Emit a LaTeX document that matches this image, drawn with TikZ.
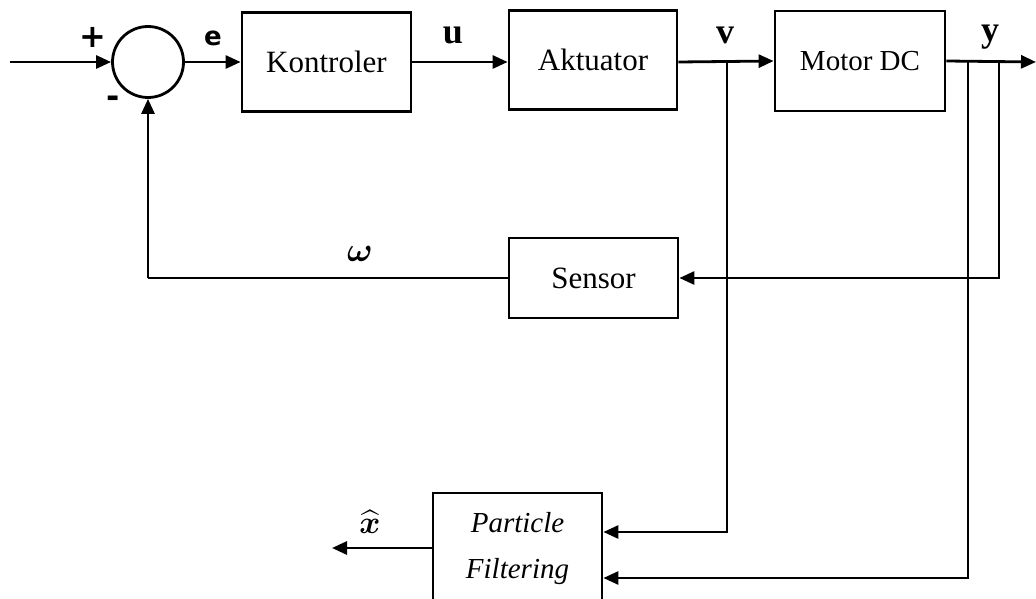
\RequirePackage{fix-cm}
\documentclass[tikz,border=0pt]{standalone}
\usepackage{amsmath,amssymb}
\usepackage{fontspec}
\setmainfont{Liberation Serif}
\newfontfamily\labelsans{DejaVu Sans}
\usepackage{tikz}
\usetikzlibrary{arrows.meta,positioning,calc}

\tikzset{
    blockbox/.style={draw, line width=2.8pt, rectangle, minimum width=169pt, minimum height=99pt, inner sep=0pt, font=\fontsize{31}{36}\selectfont},
    sumnode/.style={draw, line width=2.8pt, circle, minimum size=71pt, inner sep=0pt},
    sig/.style={line width=2.8pt, -{Triangle[length=15pt,width=13pt]}},
    wire/.style={line width=2.8pt},
    siglabel/.style={font=\fontsize{36}{40}\selectfont\bfseries}
}

\begin{document}
\begin{tikzpicture}[x=1pt, y=-1pt]
\useasboundingbox (0,0) rectangle (1036,599);

% forward path
\node[sumnode] (sum) at (148,62) {};
\node[blockbox] (kont) at (326.5,62) {Kontroler};
\node[blockbox, minimum width=168pt] (akt) at (593,60) {Aktuator};
\node[blockbox, minimum width=170pt, minimum height=100pt, font=\fontsize{29}{34}\selectfont] (motor) at (860,61) {Motor DC};

% feedback and estimator
\node[blockbox, minimum height=80pt] (sensor) at (593.5,278) {Sensor};
\node[blockbox, minimum height=112pt, align=center, font=\fontsize{29}{46}\selectfont\itshape] (pf) at (517.5,549) {Particle\\Filtering};

\coordinate (in) at (10,62);
\coordinate (vtap) at (727,62);
\coordinate (ytapa) at (968,62);
\coordinate (ytapb) at (999,62);
\coordinate (out) at (1036,62);
\coordinate (fb) at (148,278);
\coordinate (xhat) at (332,548);

\draw[sig] (in) -- (sum.west);
\draw[sig] (sum.east) -- (kont.west);
\draw[sig] (kont.east) -- (kont.east -| akt.west);
\draw[sig] (kont.east -| akt.east) -- (motor.west);
\draw[sig] (motor.east) -- (out);

\draw[sig] (ytapb) -- (ytapb |- sensor.east) -- (sensor.east);
\draw[wire] (sensor.west) -- (fb);
\draw[sig] (fb) -- (sum.south);

\draw[sig] (vtap) -- (727,532) -- (pf.east |- 0,532);
\draw[sig] (ytapa) -- (968,578) -- (pf.east |- 0,578);
\draw[sig] (pf.west |- xhat) -- (xhat);

% labels
\node[font=\fontsize{32}{36}\selectfont\labelsans\bfseries] (plus) at (93,37) {+};
\node[font=\fontsize{32}{36}\selectfont\labelsans\bfseries] (minus) at (113,102) {-};
\node[siglabel, font=\fontsize{26}{30}\selectfont\labelsans\bfseries] (elab) at (213,38) {e};
\node[siglabel] (ulab) at (453,35) {u};
\node[siglabel] (vlab) at (725,35) {v};
\node[siglabel] (ylab) at (990,37) {y};
\node[font=\fontsize{34}{38}\selectfont] (wlab) at (360,254) {$\boldsymbol{\omega}$};
\node[font=\fontsize{32}{36}\selectfont] (xlab) at (370,522) {$\widehat{\boldsymbol{x}}$};
\end{tikzpicture}
\end{document}
